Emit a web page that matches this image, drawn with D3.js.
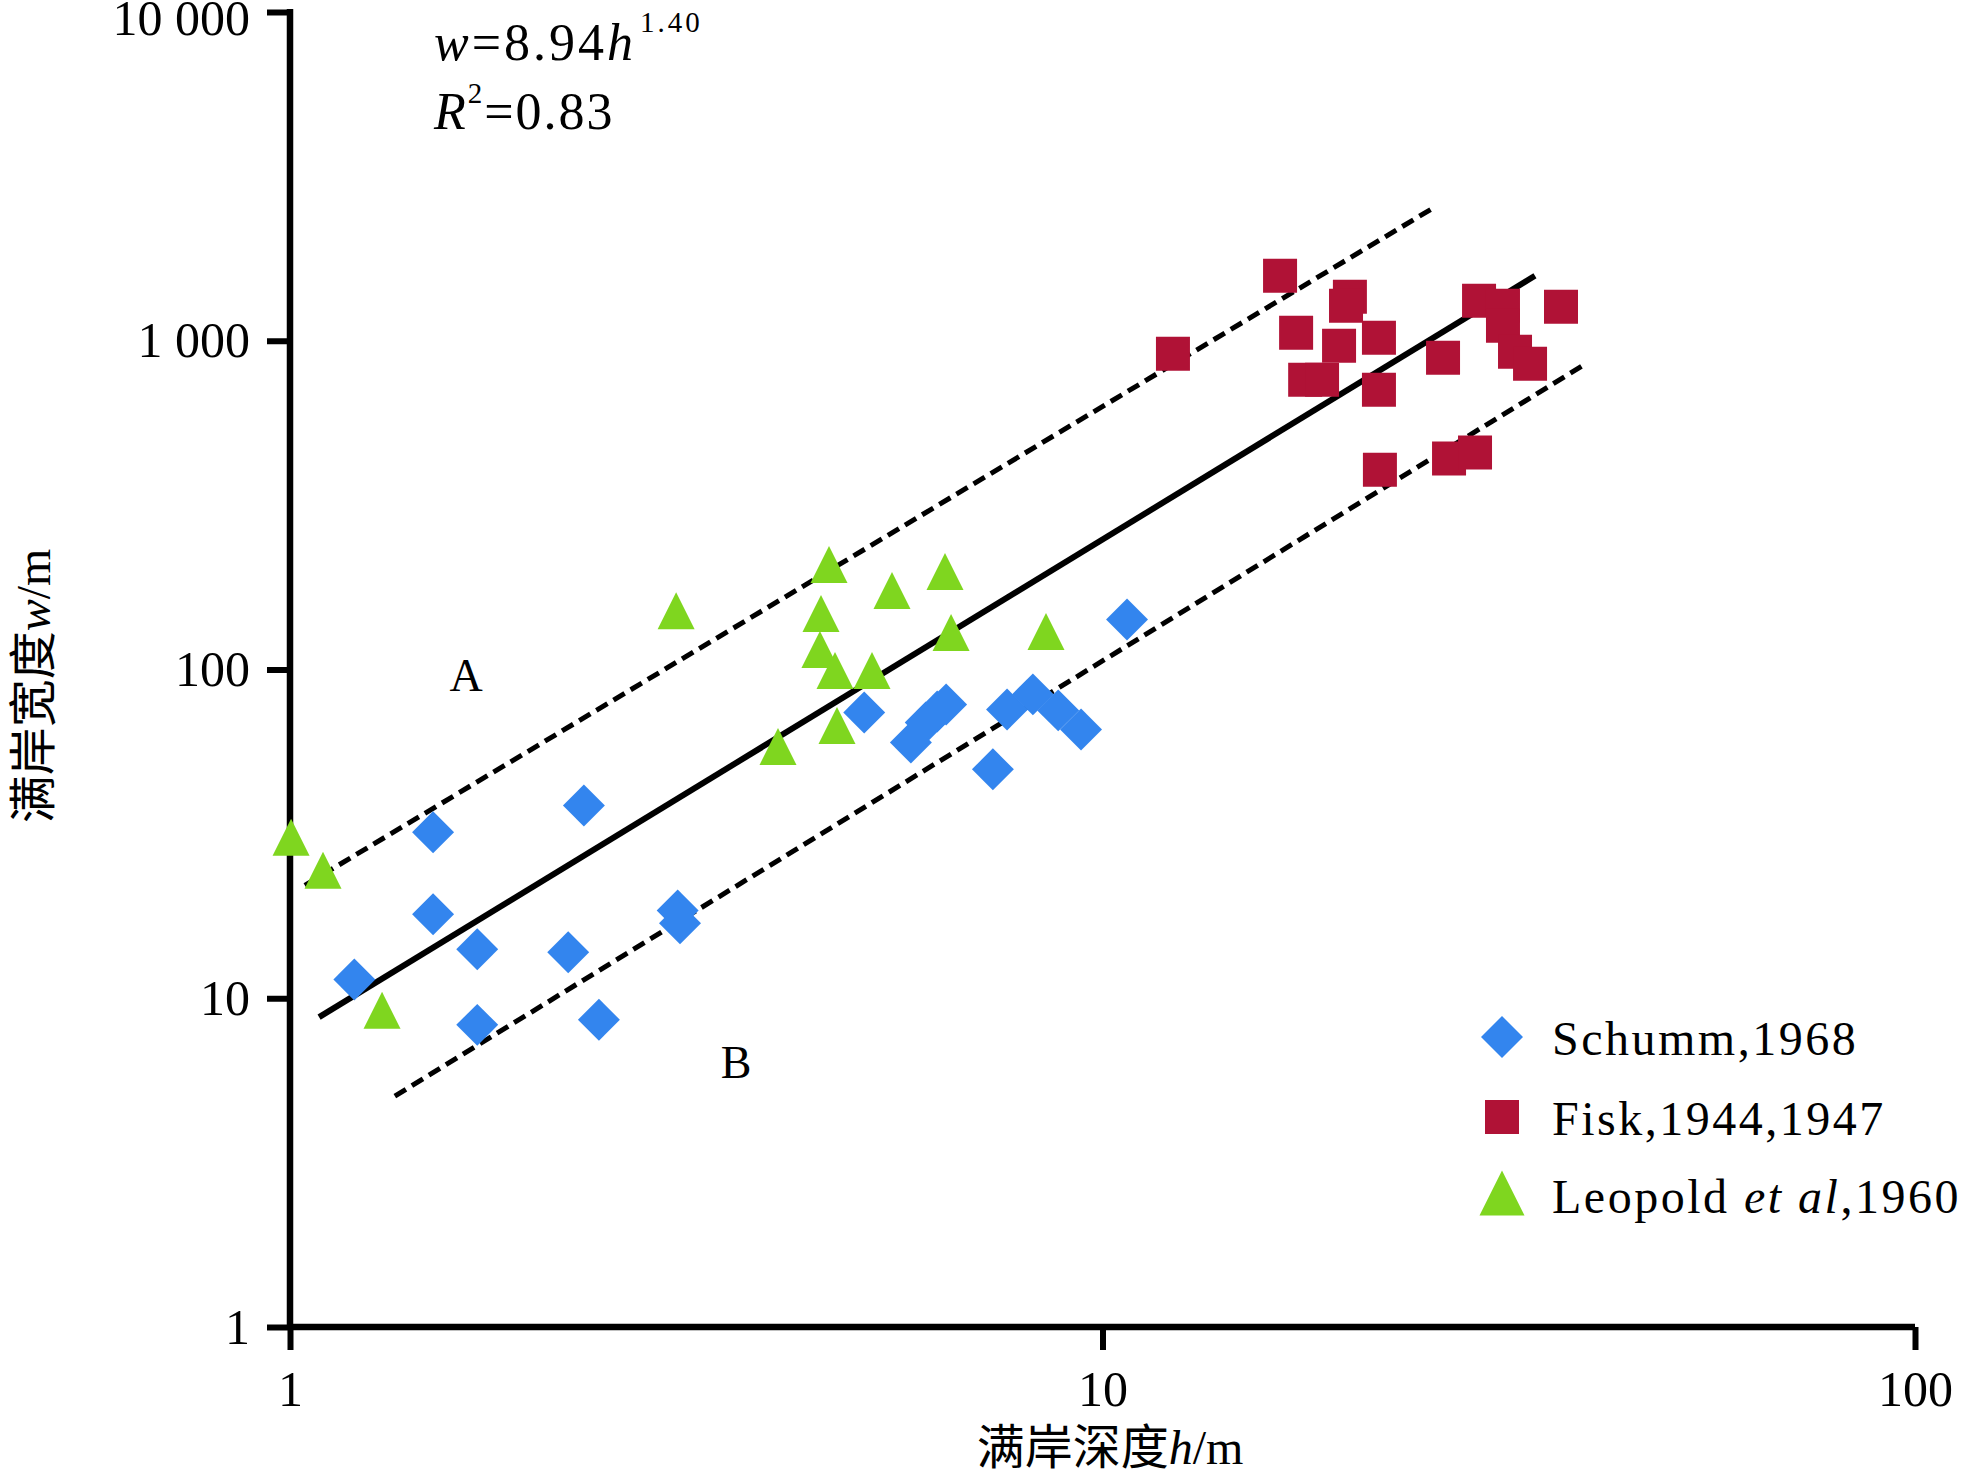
<!DOCTYPE html>
<html>
<head>
<meta charset="utf-8">
<script src="https://cdn.jsdelivr.net/npm/d3@7"></script>
<style>
body { margin: 0; background: #fff; }
text { font-family: "Liberation Serif", "Times New Roman", serif; fill: #000; }
.cjk { font-family: "Noto Sans CJK SC", sans-serif; }
</style>
</head>
<body>
<script>
// Schumm, 1968 (blue diamonds)
var schummH = [1.20, 1.50, 1.50, 1.70, 1.70, 2.30, 2.20, 2.40, 3.00, 3.02, 5.09, 5.81, 6.06, 6.26, 6.42, 7.33, 7.63, 8.21, 8.82, 9.41, 10.72];
var schummW = [11.4, 32.0, 18.0, 14.1, 8.3, 38.6, 13.8, 8.6, 18.5, 16.9, 74.0, 60.0, 69.0, 74.5, 78.3, 49.7, 75.6, 84.0, 75.1, 65.7, 141.9];

// Fisk, 1944, 1947 (red squares)
var fiskH = [12.21, 16.54, 17.31, 17.76, 18.63, 19.55, 20.16, 19.94, 21.89, 21.89, 21.95, 26.25, 29.07, 31.11, 31.11, 32.19, 33.59, 36.67, 26.70, 28.74];
var fiskW = [913, 1576, 1058, 761, 761, 965, 1361, 1278, 1021, 710, 405, 888, 1323, 1278, 1111, 926, 851, 1269, 438, 457];

// Leopold et al, 1960 (green triangles)
var leopoldH = [1.003, 1.098, 1.298, 2.987, 3.987, 4.503, 4.49, 4.607, 4.686, 4.712, 5.204, 5.507, 6.40, 6.51, 8.52];
var leopoldW = [30.9, 24.5, 9.19, 151, 58.3, 148, 115, 208.5, 99.3, 67.6, 99.3, 173.9, 198.6, 129.6, 130.5];

// regression line and envelope lines (end points)
var fitH = [1.086, 34.06], fitW = [8.76, 1576];
var upperH = [1.043, 25.48], upperW = [22.05, 2528];
var lowerH = [1.346, 39.14], lowerW = [5.04, 845];

var xTicks = [1, 10, 100];
var xTickLabels = ["1", "10", "100"];
var yTicks = [1, 10, 100, 1000, 10000];
var yTickLabels = ["1", "10", "100", "1 000", "10 000"];

var seriesNames = ["Schumm,1968", "Fisk,1944,1947", "Leopold et al,1960"];
var seriesColors = ["#3385ee", "#b01236", "#7fd61f"];

var width = 1961, height = 1482;

var svg = d3.select("body").append("svg")
  .attr("width", width)
  .attr("height", height);

var x = d3.scaleLog().domain([1, 100]).range([290, 1915]);
var y = d3.scaleLog().domain([1, 10000]).range([1327, 12]);

// axes
var xAxis = svg.append("g")
  .attr("transform", "translate(0," + y(1) + ")")
  .call(d3.axisBottom(x).tickValues(xTicks)
    .tickFormat(function(d, i) { return xTickLabels[i]; })
    .tickSize(23).tickSizeOuter(0).tickPadding(20));

var yAxis = svg.append("g")
  .attr("transform", "translate(" + x(1) + ",0)")
  .call(d3.axisLeft(y).tickValues(yTicks)
    .tickFormat(function(d, i) { return yTickLabels[i]; })
    .tickSize(23).tickSizeOuter(0).tickPadding(17));

[xAxis, yAxis].forEach(function(g) {
  g.select(".domain").attr("stroke", "#000").attr("stroke-width", 6.5);
  g.selectAll(".tick line").attr("stroke", "#000").attr("stroke-width", 6);
  g.selectAll(".tick text")
    .attr("font-family", "Liberation Serif, Times New Roman, serif")
    .attr("font-size", 50)
    .attr("fill", "#000");
});
// keep the top label inside the picture
yAxis.selectAll(".tick text").filter(function(d) { return d === 10000; })
  .attr("y", 6);
// the top of the y axis ends on the 10 000 tick
yAxis.select(".domain").attr("d", "M0," + (y(10000) - 3) + "V" + y(1));
xAxis.select(".domain").attr("d", "M" + x(1) + ",0H" + x(100));

// lines
var line = d3.line()
  .x(function(d) { return x(d[0]); })
  .y(function(d) { return y(d[1]); });

svg.append("path")
  .datum(d3.zip(fitH, fitW))
  .attr("d", line)
  .attr("fill", "none")
  .attr("stroke", "#000")
  .attr("stroke-width", 6);

[[upperH, upperW], [lowerH, lowerW]].forEach(function(l) {
  svg.append("path")
    .datum(d3.zip(l[0], l[1]))
    .attr("d", line)
    .attr("fill", "none")
    .attr("stroke", "#000")
    .attr("stroke-width", 5)
    .attr("stroke-dasharray", "13,7");
});

// marker shapes
var diamond = d3.symbol().type(d3.symbolSquare).size(880)();
var square = d3.symbol().type(d3.symbolSquare).size(1156)();
function triangle(s) {
  var h = s / 2;
  return "M0," + (-h) + "L" + h + "," + h + "L" + (-h) + "," + h + "Z";
}

function drawPoints(hs, ws, color, shape, rotate) {
  svg.append("g").selectAll("path")
    .data(d3.zip(hs, ws))
    .enter()
    .append("path")
    .attr("d", shape)
    .attr("fill", color)
    .attr("transform", function(d) {
      return "translate(" + x(d[0]) + "," + y(d[1]) + ")" + (rotate ? " rotate(45)" : "");
    });
}

drawPoints(fiskH, fiskW, seriesColors[1], square, false);
drawPoints(leopoldH, leopoldW, seriesColors[2], triangle(37), false);
drawPoints(schummH, schummW, seriesColors[0], diamond, true);

// equation
var eq = svg.append("text")
  .attr("x", 434).attr("y", 60)
  .attr("font-size", 52)
  .attr("letter-spacing", 3);
eq.append("tspan").attr("font-style", "italic").text("w");
eq.append("tspan").text("=8.94");
eq.append("tspan").attr("font-style", "italic").text("h");
eq.append("tspan").attr("font-size", 29).attr("dy", -28).attr("dx", 4).text("1.40");

var r2 = svg.append("text")
  .attr("x", 434).attr("y", 129)
  .attr("font-size", 52)
  .attr("letter-spacing", 2);
r2.append("tspan").attr("font-style", "italic").text("R");
r2.append("tspan").attr("font-size", 29).attr("dy", -26).text("2");
r2.append("tspan").attr("dy", 26).text("=0.83");

// region labels
svg.append("text").attr("x", 466).attr("y", 691).attr("text-anchor", "middle")
  .attr("font-size", 46).text("A");
svg.append("text").attr("x", 736).attr("y", 1078).attr("text-anchor", "middle")
  .attr("font-size", 46).text("B");

// legend
var legendY = [1037, 1117, 1193];
var legendShapes = [diamond, square, triangle(45)];
seriesNames.forEach(function(name, i) {
  svg.append("path")
    .attr("d", legendShapes[i])
    .attr("fill", seriesColors[i])
    .attr("transform", "translate(1502," + legendY[i] + ")" + (i === 0 ? " rotate(45)" : ""));
});
var legendText = svg.append("g")
  .attr("font-size", 48)
  .attr("letter-spacing", 2.5);
legendText.append("text").attr("x", 1552).attr("y", 1055).text(seriesNames[0]);
legendText.append("text").attr("x", 1552).attr("y", 1135).text(seriesNames[1]);
var leo = legendText.append("text").attr("x", 1552).attr("y", 1213);
leo.append("tspan").text("Leopold ");
leo.append("tspan").attr("font-style", "italic").text("et al");
leo.append("tspan").text(",1960");

// axis titles
var xt = svg.append("text")
  .attr("x", 1110).attr("y", 1464)
  .attr("text-anchor", "middle")
  .attr("font-size", 48);
xt.append("tspan").attr("class", "cjk").text("满岸深度");
xt.append("tspan").attr("font-style", "italic").text("h");
xt.append("tspan").text("/m");

var yt = svg.append("text")
  .attr("transform", "translate(50,686) rotate(-90)")
  .attr("text-anchor", "middle")
  .attr("font-size", 48);
yt.append("tspan").attr("class", "cjk").text("满岸宽度");
yt.append("tspan").attr("font-style", "italic").text("w");
yt.append("tspan").text("/m");
</script>
</body>
</html>
